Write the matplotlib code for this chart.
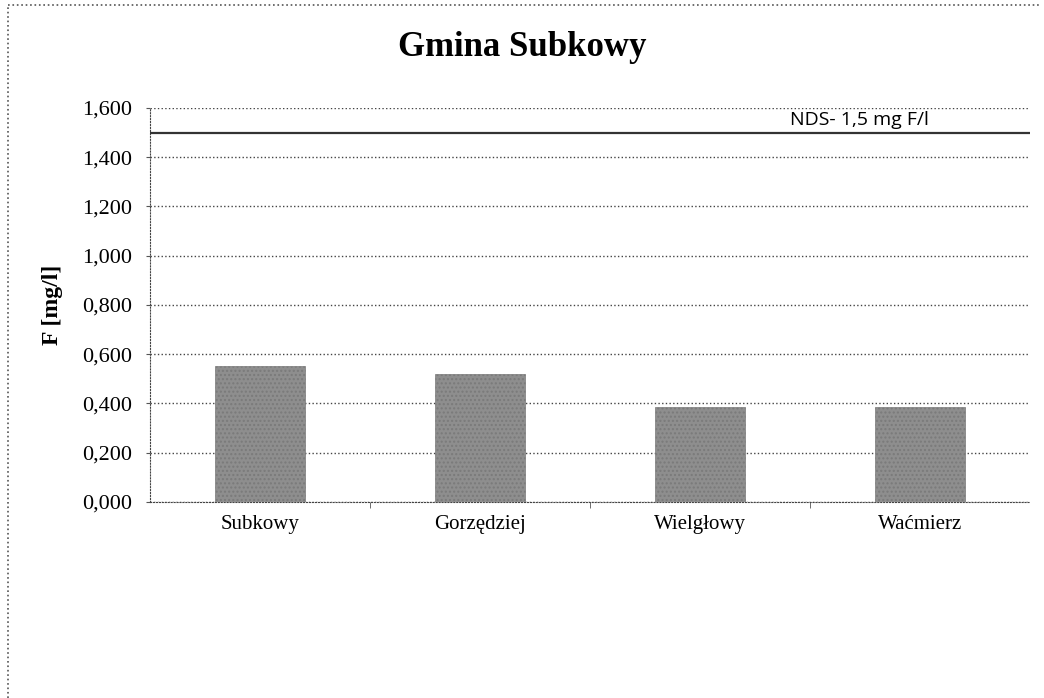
import matplotlib.pyplot as plt
from matplotlib.lines import Line2D

categories = ['Subkowy', 'Gorzędziej', 'Wielgłowy', 'Waćmierz']
fluoride = [0.552, 0.520, 0.386, 0.386]
nds_limit = 1.5
y_ticks = [0.0, 0.2, 0.4, 0.6, 0.8, 1.0, 1.2, 1.4, 1.6]

serif = ['Liberation Serif', 'DejaVu Serif']

fig = plt.figure(figsize=(10.44, 6.98), dpi=100)
ax = fig.add_axes([0.1437, 0.2808, 0.8429, 0.5645])

x = list(range(len(categories)))
ax.bar(x, fluoride, width=0.41, color='#8e8e8e', edgecolor='#7a7a7a',
       hatch='....', linewidth=0.5, zorder=3)

ax.axhline(nds_limit, color='#333333', linewidth=1.6, zorder=4)
ax.text(2.41, nds_limit + 0.015, 'NDS- 1,5 mg F/l', fontsize=14,
        family=['Open Sans', 'DejaVu Sans'], va='bottom', ha='left', zorder=5)

ax.set_xlim(-0.5, len(categories) - 0.5)
ax.set_ylim(0, 1.6)
ax.set_yticks(y_ticks)
ax.set_yticklabels([f'{v:.3f}'.replace('.', ',') for v in y_ticks],
                   family=serif, fontsize=16)
ax.set_xticks(x)
ax.set_xticklabels(categories, family=serif, fontsize=15)
ax.set_xticks([i + 0.5 for i in range(len(categories) - 1)], minor=True)
ax.tick_params(axis='x', which='major', length=0, pad=9)
ax.tick_params(axis='x', which='minor', length=4, color='#555555')
ax.tick_params(axis='y', length=3, color='#555555', pad=10)

ax.grid(axis='y', linestyle=':', color='#444444', linewidth=1.0, zorder=0)
for side in ['top', 'right']:
    ax.spines[side].set_visible(False)
for side in ['left', 'bottom']:
    ax.spines[side].set_linestyle(':')
    ax.spines[side].set_color('#444444')

ax.set_ylabel('F [mg/l]', family=serif, fontsize=17, fontweight='bold', labelpad=14)
fig.text(0.5, 0.932, 'Gmina Subkowy', family=serif, fontsize=25,
         fontweight='bold', ha='center', va='center')

# outer chart frame (top and left edges visible)
fig.add_artist(Line2D([0.008, 0.995], [0.993, 0.993], color='#555555',
                      linestyle=':', linewidth=1.2))
fig.add_artist(Line2D([0.008, 0.008], [0.0, 0.993], color='#555555',
                      linestyle=':', linewidth=1.2))

fig.savefig('out.png', dpi=100)
